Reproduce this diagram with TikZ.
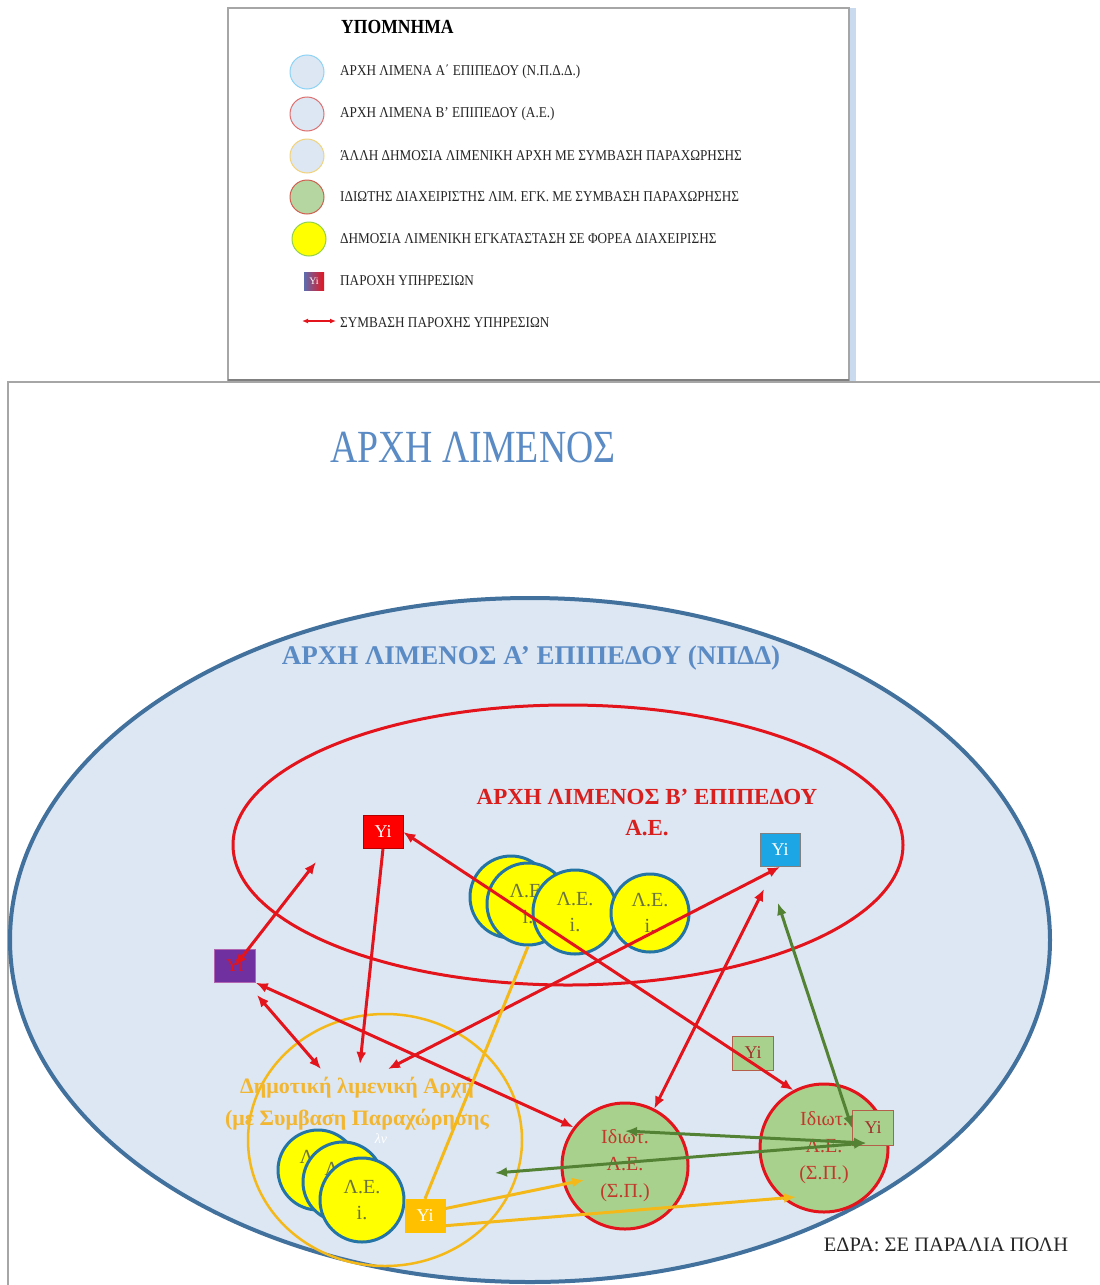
\documentclass[tikz,border=0pt]{standalone}
\usepackage{fontspec}
\setmainfont{Liberation Serif}
\newfontfamily\legfont[FakeStretch=0.88]{Liberation Serif}
\newfontfamily\titfont[FakeStretch=0.82]{Liberation Serif}
\usetikzlibrary{shapes.geometric,arrows.meta,calc}
\definecolor{bigfill}{HTML}{DDE7F3}
\definecolor{bigborder}{HTML}{41719C}
\definecolor{titblue}{HTML}{5B8BC5}
\definecolor{redline}{HTML}{E3141B}
\definecolor{redtext}{HTML}{D91E1E}
\definecolor{orangeline}{HTML}{F4B919}
\definecolor{orangetext}{HTML}{F2B631}
\definecolor{leyellow}{HTML}{FFFF00}
\definecolor{leborder}{HTML}{2474A6}
\definecolor{letext}{HTML}{6A7340}
\definecolor{greenfill}{HTML}{A9D18E}
\definecolor{gtext}{HTML}{C0392B}
\definecolor{greenarr}{HTML}{548235}
\definecolor{yired}{HTML}{FF0000}
\definecolor{yiblue}{HTML}{1DA6E6}
\definecolor{yipurple}{HTML}{7030A0}
\definecolor{yiorange}{HTML}{FFC000}
\definecolor{yigborder}{HTML}{B45F4A}
\definecolor{yigtext}{HTML}{A0302A}
\definecolor{legblue}{HTML}{C9D9EE}
\definecolor{lcb}{HTML}{8DD3F5}
\definecolor{lcr}{HTML}{E07070}
\definecolor{lcy}{HTML}{F2D27A}
\definecolor{lcg}{HTML}{B5D5A1}
\definecolor{lcgb}{HTML}{D06050}
\definecolor{lcyb}{HTML}{92D050}
\definecolor{legyb}{HTML}{5D6DAE}
\definecolor{legyr}{HTML}{E8141E}
\definecolor{framegray}{HTML}{A6A6A6}
\begin{document}
\begin{tikzpicture}[x=1pt,y=-1pt,
  >={Latex[length=12pt,width=10pt]},
  yibox/.style={rectangle, minimum width=40pt, minimum height=33pt, inner sep=0pt, font=\fontsize{18}{18}\selectfont},
  lecirc/.style={circle, draw=leborder, line width=3pt, fill=leyellow, minimum size=82pt, inner sep=0pt, align=center, text=letext, font=\fontsize{20}{26}\selectfont},
  gcirc/.style={circle, draw=redline, line width=3pt, fill=greenfill, minimum size=126pt, inner sep=0pt, align=center, text=gtext, font=\fontsize{20}{27}\selectfont},
  redarr/.style={draw=redline, line width=3pt},
  grarr/.style={draw=greenarr, line width=3pt},
  orarr/.style={draw=orangeline, line width=3pt},
  legtext/.style={anchor=west, inner sep=0pt, font=\legfont\fontsize{15}{15}\selectfont, text=black!85},
  legcirc/.style={circle, minimum size=34pt, inner sep=0pt, line width=1pt}
]
\useasboundingbox[fill=white] (0,0) rectangle (1100,1285);

% ---------- legend ----------
\fill[legblue] (850,8) rectangle (856,381);
\draw[framegray, line width=2pt] (228,8) rectangle (849,380);
\draw[gray, line width=3pt] (228,380) -- (849,380);
\node[anchor=west, inner sep=0pt, font=\legfont\bfseries\fontsize{20}{20}\selectfont] (legtitle) at (341,27) {ΥΠΟΜΝΗΜΑ};
\node[legcirc, fill=bigfill, draw=lcb] (lc1) at (307,72) {};
\node[legcirc, fill=bigfill, draw=lcr] (lc2) at (307,114) {};
\node[legcirc, fill=bigfill, draw=lcy] (lc3) at (307,156) {};
\node[legcirc, fill=lcg, draw=lcgb] (lc4) at (307,197) {};
\node[legcirc, fill=leyellow, draw=lcyb] (lc5) at (309,239) {};
\node[rectangle, minimum width=20pt, minimum height=18pt, inner sep=0pt, left color=legyb, right color=legyr, text=white, font=\fontsize{10}{10}\selectfont] (lyi) at (314,281) {Yi};
\coordinate (la1) at (302,321);
\coordinate (la2) at (336,321);
\draw[redline, line width=2pt, {Latex[length=6pt,width=5pt]}-{Latex[length=6pt,width=5pt]}] (la1) -- (la2);
\node[legtext] (lt1) at (340,72) {ΑΡΧΗ ΛΙΜΕΝΑ Α΄ ΕΠΙΠΕΔΟΥ (Ν.Π.Δ.Δ.)};
\node[legtext] (lt2) at (340,114) {ΑΡΧΗ ΛΙΜΕΝΑ Β’ ΕΠΙΠΕΔΟΥ (Α.Ε.)};
\node[legtext] (lt3) at (340,156) {ΆΛΛΗ ΔΗΜΟΣΙΑ ΛΙΜΕΝΙΚΗ ΑΡΧΗ ΜΕ ΣΥΜΒΑΣΗ ΠΑΡΑΧΩΡΗΣΗΣ};
\node[legtext] (lt4) at (340,197) {ΙΔΙΩΤΗΣ ΔΙΑΧΕΙΡΙΣΤΗΣ ΛΙΜ. ΕΓΚ. ΜΕ ΣΥΜΒΑΣΗ ΠΑΡΑΧΩΡΗΣΗΣ};
\node[legtext] (lt5) at (340,239) {ΔΗΜΟΣΙΑ ΛΙΜΕΝΙΚΗ ΕΓΚΑΤΑΣΤΑΣΗ ΣΕ ΦΟΡΕΑ ΔΙΑΧΕΙΡΙΣΗΣ};
\node[legtext] (lt6) at (340,281) {ΠΑΡΟΧΗ ΥΠΗΡΕΣΙΩΝ};
\node[legtext] (lt7) at (340,323) {ΣΥΜΒΑΣΗ ΠΑΡΟΧΗΣ ΥΠΗΡΕΣΙΩΝ};

% ---------- main frame ----------
\draw[framegray, line width=2pt] (8,1285) -- (8,382) -- (1100,382);
\node[font=\titfont\fontsize{46}{46}\selectfont, text=titblue] (title) at (473,447) {ΑΡΧΗ ΛΙΜΕΝΟΣ};

% ---------- ellipses ----------
\node[ellipse, draw=bigborder, line width=4pt, fill=bigfill, minimum width=1040pt, minimum height=684pt, inner sep=0pt] (npdd) at (530,940) {};
\node[font=\bfseries\fontsize{27}{27}\selectfont, text=titblue] (npddlab) at (531,658) {ΑΡΧΗ ΛΙΜΕΝΟΣ Α’ ΕΠΙΠΕΔΟΥ (ΝΠΔΔ)};
\node[ellipse, draw=redline, line width=3pt, minimum width=670pt, minimum height=280pt, inner sep=0pt] (ae) at (568,845) {};
\node[font=\bfseries\fontsize{23}{31}\selectfont, text=redtext, align=center] (aelab) at (647,813) {ΑΡΧΗ ΛΙΜΕΝΟΣ Β’ ΕΠΙΠΕΔΟΥ\\Α.Ε.};
\node[ellipse, draw=orangeline, line width=2.5pt, minimum width=274pt, minimum height=252pt, inner sep=0pt] (dim) at (385,1140) {};
\node[font=\bfseries\fontsize{22}{32}\selectfont, text=orangetext, align=center] (dimlab) at (357,1104) {Δημοτική λιμενική Αρχή\\(με Συμβαση Παραχώρησης};
\node[font=\itshape\fontsize{14}{14}\selectfont, text=white] (lnlab) at (381,1139) {λν};

% ---------- yellow port facilities ----------
\node[lecirc] (yc1) at (511,897) {};
\node[lecirc] (yc2) at (528,904) {Λ.Ε.\\i.};
\node[lecirc, minimum size=84pt] (yc3) at (575,912) {Λ.Ε.\\i.};
\node[lecirc, minimum size=78pt] (yc4) at (650,913) {Λ.Ε.\\i.};
\node[lecirc, minimum size=80pt] (ya) at (318,1170) {Λ.Ε.\\i.};
\node[lecirc, minimum size=80pt] (yb) at (343,1182) {Λ.Ε.\\i.};
\node[lecirc, minimum size=84pt] (yc) at (362,1200) {Λ.Ε.\\i.};

% ---------- private operators ----------
\node[gcirc] (gl) at (625,1166) {Ιδιωτ.\\Λ.Ε.\\(Σ.Π.)};
\node[gcirc, minimum size=128pt] (gr) at (824,1148) {Ιδιωτ.\\Λ.Ε.\\(Σ.Π.)};

% ---------- service boxes ----------
\node[yibox, fill=yired, draw=red!70!black, line width=0.5pt, text=white] (rY) at (383,832) {Yi};
\node[yibox, fill=yiblue, draw=gray, line width=0.8pt, text=white] (bY) at (780,850) {Yi};
\node[yibox, minimum width=41pt, fill=yipurple, draw=violet!60, line width=0.5pt, text=redline] (pY) at (235,966) {Yi};
\node[yibox, minimum width=41pt, minimum height=34pt, fill=greenfill, draw=yigborder, line width=1pt, text=yigtext] (gY1) at (753,1053) {Yi};
\node[yibox, minimum width=41pt, minimum height=35pt, fill=greenfill, draw=yigborder, line width=1pt, text=yigtext] (gY2) at (873,1128) {Yi};
\node[yibox, minimum width=41pt, minimum height=34pt, fill=yiorange, text=white] (oY) at (425,1216) {Yi};

% ---------- free ends ----------
\coordinate (f1) at (316,862);
\coordinate (p1) at (257,995);
\coordinate (d1) at (321,1069);
\coordinate (d2) at (360,1064);
\coordinate (d3) at (388,1069);
\coordinate (f2) at (764,889);
\coordinate (f3) at (778,903);
\coordinate (f4) at (625,1131);
\coordinate (f5) at (495,1173);
\coordinate (f6) at (866,1143);
\coordinate (o1) at (584,1180);
\coordinate (o2) at (796,1197);

% ---------- red contracts ----------
\draw[redarr,<->] (pY.center) -- (f1);
\draw[redarr,->] (rY.south) -- (d2);
\draw[redarr,<->] (p1) -- (d1);
\draw[redarr,<->] (pY.south east) -- (gl.143);
\draw[redarr,<->] (rY.east) -- (gr.118);
\draw[redarr,<->] (d3) -- (bY.south);
\draw[redarr,<->] (gl.63) -- (f2);

% ---------- green contracts ----------
\draw[grarr,<->] (f3) -- (gY2.west);
\draw[grarr,<->] (f4) -- (f6);
\draw[grarr,<->] (f5) -- (f6);

% ---------- orange links ----------
\draw[orarr] (oY.north) -- (yc2.south);
\draw[orarr,->] (oY.20) -- (o1);
\draw[orarr,->] (oY.-25) -- (o2);

\node[font=\fontsize{20.5}{20.5}\selectfont, text=black!85] (edra) at (946,1245) {ΕΔΡΑ: ΣΕ ΠΑΡΑΛΙΑ ΠΟΛΗ};
\end{tikzpicture}
\end{document}
